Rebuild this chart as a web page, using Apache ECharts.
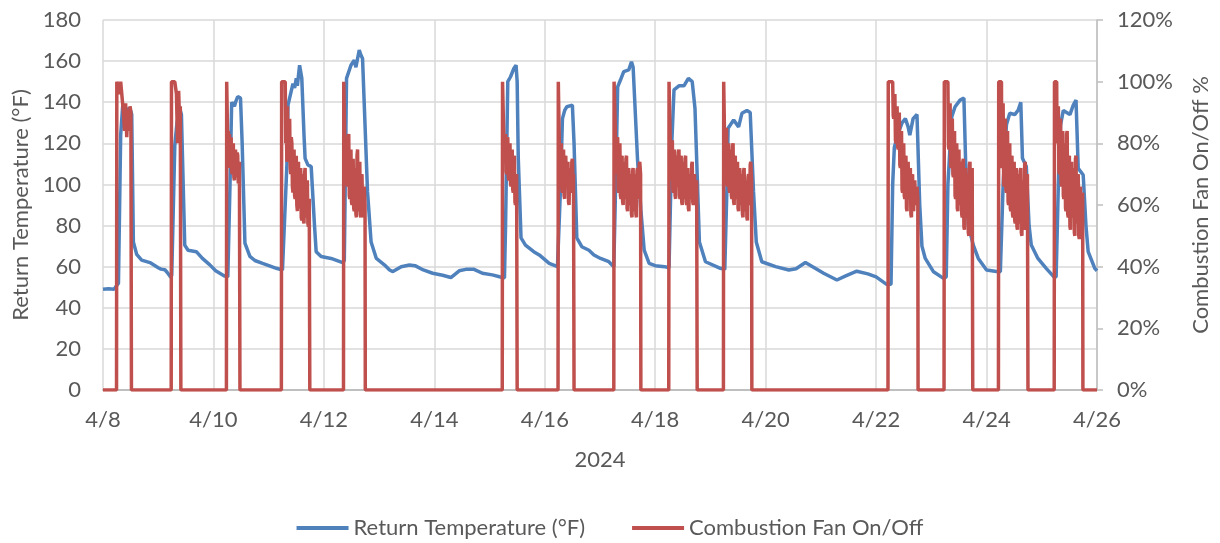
<!DOCTYPE html>
<html><head><meta charset="utf-8">
<script src="https://cdn.jsdelivr.net/npm/echarts@6/dist/echarts.min.js"></script>
<style>html,body{margin:0;padding:0;background:#fff}#c{width:1220px;height:543px}</style>
</head><body><div id="c"></div>
<script>
// x values are days since 4/8/2024
const xTickLabels = ['4/8','4/10','4/12','4/14','4/16','4/18','4/20','4/22','4/24','4/26'];
const seriesNames = ['Return Temperature (°F)', 'Combustion Fan On/Off'];

const returnTemp = [
[0,49],[0.1,49.3],[0.2,49],[0.23,48.5],[0.28,52],[0.32,124],[0.356,138],[0.40,135],[0.45,137],[0.50,136],[0.52,134],[0.55,72],[0.61,66],[0.70,63.2],[0.85,62],[1.0,59.5],[1.05,58.8],[1.12,58.5],[1.16,57.3],[1.23,54.8],
[1.245,56],[1.30,119],[1.34,130],[1.39,137],[1.42,134],[1.48,70.5],[1.54,68],[1.69,67.3],[1.80,64],[1.93,61],[2.04,58],[2.19,55.6],[2.26,55],
[2.30,100],[2.33,140],[2.38,138],[2.40,140],[2.44,142.7],[2.49,142],[2.52,120],[2.57,71.5],[2.66,65],[2.75,63],[2.89,61.6],[3.14,59.2],[3.25,58.4],
[3.33,109.5],[3.35,138.6],[3.44,149],[3.47,147],[3.50,151.6],[3.52,148],[3.56,158],[3.60,151.6],[3.64,124],[3.66,112.7],[3.71,109.5],[3.77,108.7],[3.83,80],[3.86,67.3],[3.95,64.9],[4.13,64],[4.34,62],
[4.37,63],[4.41,151.6],[4.49,158],[4.55,160.5],[4.58,157],[4.64,165.4],[4.67,163],[4.70,161.3],[4.79,96.5],[4.855,72],[4.95,64],[5.10,60.8],[5.19,58.4],
[5.25,57.6],[5.40,60],[5.55,60.8],[5.65,60.5],[5.80,58.4],[5.97,56.8],[6.15,55.8],[6.30,54.7],[6.45,58],[6.57,58.7],[6.72,58.7],[6.87,56.8],[7.05,56],[7.18,55.1],[7.27,54.5],
[7.29,80],[7.33,150],[7.38,152.4],[7.44,156.4],[7.48,158],[7.50,150],[7.52,112.7],[7.57,74],[7.65,70.5],[7.80,67.3],[7.90,65.7],[8.08,61.6],[8.23,60],
[8.25,60],[8.28,95],[8.32,132],[8.36,136],[8.40,137.8],[8.50,138.6],[8.53,120],[8.58,74],[8.67,69.7],[8.80,68],[8.89,65.7],[9.01,64],[9.16,62.4],[9.25,60],
[9.30,120],[9.32,147.5],[9.37,150.8],[9.43,154.9],[9.52,155.7],[9.57,159.7],[9.60,157],[9.68,112],[9.74,87.6],[9.80,68],[9.89,61.6],[10.0,60.5],[10.17,60],[10.25,59.5],
[10.30,120],[10.34,146],[10.43,148],[10.52,148],[10.60,151.6],[10.67,150],[10.72,137],[10.76,104.6],[10.80,72],[10.91,62.4],[11.18,59.2],[11.26,58.7],
[11.30,100],[11.32,127.3],[11.42,131.4],[11.51,128],[11.57,134.6],[11.66,136],[11.72,135],[11.78,96.5],[11.83,72],[11.93,62.4],[12.18,60],[12.42,58.4],[12.55,59],[12.72,62],[12.85,60],[13.05,56.8],[13.29,53.5],[13.45,55.5],[13.65,57.8],[13.85,56.5],[14.0,55],[14.19,51.4],[14.27,51.5],
[14.30,100],[14.33,118],[14.40,125],[14.47,130],[14.53,132],[14.58,128],[14.61,124],[14.67,132],[14.74,134],[14.79,90],[14.83,70],[14.89,64],[15.04,57.5],[15.22,54.3],[15.27,55],
[15.30,100],[15.37,133],[15.43,137.8],[15.52,141],[15.59,142],[15.62,112],[15.67,80],[15.76,70.5],[15.85,64],[16.0,58.4],[16.18,57.6],[16.25,57.5],
[16.30,100],[16.36,129],[16.42,134.6],[16.51,134],[16.57,136],[16.62,140],[16.65,112.7],[16.72,108.7],[16.77,80],[16.81,70.5],[16.93,64],[17.08,59.2],[17.22,55],[17.26,55],
[17.30,100],[17.34,129],[17.39,136],[17.51,134],[17.57,138.6],[17.62,141],[17.66,107.8],[17.75,104.6],[17.80,80],[17.84,67.3],[17.96,59.2],[18.0,58]
];

const fanOnOff = [
[0,0],
[0.245,0],[0.25,100],[0.30,96],[0.32,100],[0.35,100],[0.37,90],[0.39,84],[0.41,93],[0.43,82],[0.45,91],[0.47,84],[0.49,92],[0.505,90],[0.515,0],
[1.235,0],[1.24,100],[1.30,100],[1.33,96],[1.35,80],[1.37,97],[1.39,85],[1.40,92],[1.41,0],
[2.235,0],[2.24,100],[2.25,100],[2.26,78],[2.27,84],[2.28,74],[2.29,83],[2.30,72],[2.31,80],[2.32,82],[2.33,71],[2.34,70],[2.35,79],[2.36,80],[2.37,69],[2.38,68],[2.39,77],[2.40,78],[2.41,69],[2.42,70],[2.43,77],[2.44,76],[2.45,67],[2.46,68],[2.47,74],[2.48,0],
[3.23,0],[3.235,100],[3.30,100],[3.31,80],[3.32,85],[3.33,74],[3.34,92],[3.35,80],[3.36,74],[3.37,86],[3.38,88],[3.39,72],[3.40,70],[3.41,82],[3.42,80],[3.43,66],[3.44,64],[3.45,77],[3.46,78],[3.47,63],[3.48,62],[3.49,74],[3.50,76],[3.51,60],[3.52,58],[3.53,72],[3.54,74],[3.55,59],[3.56,60],[3.57,71],[3.58,72],[3.59,56],[3.60,55],[3.61,69],[3.62,70],[3.63,55],[3.64,54],[3.65,70],[3.66,72],[3.67,57],[3.68,56],[3.69,67],[3.70,68],[3.71,54],[3.72,53],[3.735,62],[3.745,0],
[4.355,0],[4.36,100],[4.38,100],[4.385,72],[4.39,72],[4.40,79],[4.41,80],[4.42,67],[4.43,66],[4.44,82],[4.45,83],[4.46,63],[4.47,62],[4.48,77],[4.49,78],[4.50,61],[4.51,60],[4.52,74],[4.53,75],[4.54,59],[4.55,58],[4.56,71],[4.57,72],[4.58,57],[4.59,56],[4.60,76],[4.61,78],[4.62,59],[4.63,58],[4.64,73],[4.65,74],[4.66,57],[4.67,56],[4.68,69],[4.69,70],[4.70,57],[4.71,56],[4.72,65],[4.73,66],[4.745,60],[4.75,0],
[7.23,0],[7.235,100],[7.26,100],[7.265,76],[7.27,75],[7.28,82],[7.29,83],[7.30,71],[7.31,70],[7.32,81],[7.33,82],[7.34,69],[7.35,68],[7.36,79],[7.37,80],[7.38,67],[7.39,66],[7.40,77],[7.41,78],[7.42,65],[7.43,64],[7.44,75],[7.45,76],[7.46,61],[7.47,60],[7.48,69],[7.49,70],[7.50,0],
[8.24,0],[8.245,100],[8.27,100],[8.275,67],[8.28,66],[8.29,79],[8.30,80],[8.31,65],[8.32,64],[8.33,77],[8.34,78],[8.35,63],[8.36,62],[8.37,75],[8.38,76],[8.39,67],[8.40,66],[8.41,73],[8.42,74],[8.43,61],[8.44,60],[8.45,71],[8.46,72],[8.47,65],[8.48,64],[8.49,74],[8.50,75],[8.51,69],[8.52,70],[8.53,0],
[9.25,0],[9.255,100],[9.29,100],[9.295,71],[9.30,70],[9.31,81],[9.32,82],[9.33,65],[9.34,64],[9.35,79],[9.36,80],[9.37,63],[9.38,62],[9.39,75],[9.40,76],[9.41,61],[9.42,60],[9.43,73],[9.44,74],[9.45,63],[9.46,62],[9.47,75],[9.48,76],[9.49,59],[9.50,58],[9.51,71],[9.52,72],[9.53,61],[9.54,60],[9.55,69],[9.56,70],[9.57,57],[9.58,56],[9.59,71],[9.60,72],[9.61,59],[9.62,58],[9.63,69],[9.64,70],[9.65,57],[9.66,56],[9.67,71],[9.68,72],[9.69,63],[9.70,62],[9.71,73],[9.72,74],[9.735,70],[9.74,0],
[10.245,0],[10.25,100],[10.28,100],[10.285,69],[10.29,68],[10.30,80],[10.31,81],[10.32,65],[10.33,64],[10.34,77],[10.35,78],[10.36,63],[10.37,62],[10.38,75],[10.39,76],[10.40,67],[10.41,66],[10.42,77],[10.43,78],[10.44,63],[10.45,62],[10.46,75],[10.47,76],[10.48,61],[10.49,60],[10.50,73],[10.51,74],[10.52,63],[10.53,62],[10.54,75],[10.55,76],[10.56,61],[10.57,60],[10.58,71],[10.59,72],[10.60,59],[10.61,58],[10.62,69],[10.63,70],[10.64,63],[10.65,62],[10.66,73],[10.67,74],[10.68,61],[10.69,60],[10.70,69],[10.71,70],[10.72,65],[10.73,64],[10.75,68],[10.76,0],
[11.235,0],[11.24,100],[11.255,100],[11.265,71],[11.27,70],[11.28,84],[11.29,85],[11.30,67],[11.31,66],[11.32,79],[11.33,80],[11.34,65],[11.35,64],[11.36,77],[11.37,78],[11.38,63],[11.39,62],[11.40,79],[11.41,80],[11.42,61],[11.43,60],[11.44,75],[11.45,76],[11.46,63],[11.47,62],[11.48,73],[11.49,74],[11.50,59],[11.51,58],[11.52,71],[11.53,72],[11.54,61],[11.55,60],[11.56,69],[11.57,70],[11.58,57],[11.59,56],[11.60,71],[11.61,72],[11.62,59],[11.63,58],[11.64,67],[11.65,68],[11.66,56],[11.67,55],[11.68,69],[11.69,70],[11.70,61],[11.71,60],[11.72,73],[11.73,74],[11.745,68],[11.75,0],
[14.215,0],[14.22,100],[14.30,100],[14.31,89],[14.32,88],[14.33,95],[14.34,96],[14.35,81],[14.36,80],[14.37,91],[14.38,92],[14.39,79],[14.40,78],[14.41,89],[14.42,90],[14.43,73],[14.44,72],[14.45,83],[14.46,84],[14.47,65],[14.48,64],[14.49,79],[14.50,80],[14.51,63],[14.52,62],[14.53,75],[14.54,76],[14.55,59],[14.56,58],[14.57,73],[14.58,74],[14.59,63],[14.60,62],[14.61,71],[14.62,72],[14.63,57],[14.64,56],[14.65,69],[14.66,70],[14.67,59],[14.68,58],[14.69,67],[14.70,68],[14.71,61],[14.72,60],[14.73,65],[14.74,66],[14.755,62],[14.76,0],
[15.23,0],[15.235,100],[15.30,100],[15.31,79],[15.32,78],[15.33,92],[15.34,93],[15.35,73],[15.36,72],[15.37,87],[15.38,88],[15.39,70],[15.40,69],[15.41,83],[15.42,84],[15.43,63],[15.44,62],[15.45,79],[15.46,80],[15.47,59],[15.48,58],[15.49,77],[15.50,78],[15.51,61],[15.52,60],[15.53,73],[15.54,74],[15.55,57],[15.56,56],[15.57,74],[15.58,75],[15.59,53],[15.60,52],[15.61,71],[15.62,72],[15.63,57],[15.64,56],[15.65,69],[15.66,70],[15.67,51],[15.68,50],[15.69,73],[15.70,74],[15.71,55],[15.72,54],[15.73,71],[15.74,72],[15.75,0],
[16.215,0],[16.22,100],[16.27,100],[16.275,73],[16.28,72],[16.29,92],[16.30,93],[16.31,67],[16.32,66],[16.33,87],[16.34,88],[16.35,65],[16.36,64],[16.37,83],[16.38,84],[16.39,61],[16.40,60],[16.41,79],[16.42,80],[16.43,59],[16.44,58],[16.45,75],[16.46,76],[16.47,57],[16.48,56],[16.49,73],[16.50,74],[16.51,55],[16.52,54],[16.53,71],[16.54,72],[16.55,53],[16.56,52],[16.57,69],[16.58,70],[16.59,55],[16.60,54],[16.61,71],[16.62,72],[16.63,51],[16.64,50],[16.65,67],[16.66,68],[16.67,53],[16.68,52],[16.69,73],[16.70,74],[16.71,57],[16.72,56],[16.73,69],[16.74,70],[16.75,0],
[17.225,0],[17.23,100],[17.27,100],[17.275,81],[17.28,80],[17.29,91],[17.30,92],[17.31,71],[17.32,70],[17.33,87],[17.34,88],[17.35,67],[17.36,66],[17.37,83],[17.38,84],[17.39,63],[17.40,62],[17.41,79],[17.42,80],[17.43,59],[17.44,58],[17.45,83],[17.46,84],[17.47,57],[17.48,56],[17.49,75],[17.50,76],[17.51,53],[17.52,52],[17.53,73],[17.54,74],[17.55,57],[17.56,56],[17.57,71],[17.58,72],[17.59,51],[17.60,50],[17.61,75],[17.62,76],[17.63,55],[17.64,54],[17.65,69],[17.66,70],[17.67,50],[17.68,49],[17.69,65],[17.70,66],[17.71,57],[17.72,56],[17.73,63],[17.74,64],[17.745,0],
[18,0]
];

const FONT = 'Lato';
const GRAY = '#595959';
const FS = 22;
const chart = echarts.init(document.getElementById('c'), null, {renderer:'canvas'});
chart.setOption({
  animation: false,
  textStyle: {fontFamily: FONT},
  grid: {left: 103, right: 121, top: 20, bottom: 153},
  legend: {
    top: 512, left: 'center', icon: 'rect', itemWidth: 52, itemHeight: 4, itemGap: 47,
    textStyle: {fontSize: FS, color: GRAY, fontFamily: FONT},
    data: seriesNames
  },
  xAxis: {
    type: 'value', min: 0, max: 18, interval: 2,
    name: '2024', nameLocation: 'middle', nameGap: 59,
    nameTextStyle: {fontSize: FS, color: GRAY, fontFamily: FONT},
    axisLine: {lineStyle: {color: '#BFBFBF', width: 2}},
    axisTick: {show: false},
    axisLabel: {margin: 19, fontSize: FS, color: GRAY, fontFamily: FONT, formatter: v => xTickLabels[Math.round(v / 2)]},
    splitLine: {show: true, lineStyle: {color: '#D9D9D9', width: 1.5}}
  },
  yAxis: [{
    type: 'value', min: 0, max: 180, interval: 20,
    name: seriesNames[0], nameLocation: 'middle', nameGap: 70,
    nameTextStyle: {fontSize: FS, color: GRAY, fontFamily: FONT},
    axisLine: {show: false}, axisTick: {show: false},
    axisLabel: {margin: 22, fontSize: FS, color: GRAY, fontFamily: FONT},
    splitLine: {show: true, lineStyle: {color: '#D9D9D9', width: 1.5}}
  }, {
    type: 'value', min: 0, max: 120, interval: 20, position: 'right',
    name: 'Combustion Fan On/Off %', nameLocation: 'middle', nameGap: 93,
    nameTextStyle: {fontSize: FS, color: GRAY, fontFamily: FONT},
    axisLine: {show: true, lineStyle: {color: '#BFBFBF', width: 1.5}},
    axisTick: {show: true, length: 6, lineStyle: {color: '#BFBFBF', width: 1.5}},
    axisLabel: {margin: 20, fontSize: FS, color: GRAY, fontFamily: FONT, formatter: '{value}%'},
    splitLine: {show: false}
  }],
  series: [{
    name: seriesNames[0], type: 'line', yAxisIndex: 0, data: returnTemp,
    showSymbol: false, symbol: 'none', color: '#4F81BD',
    lineStyle: {width: 3.5, color: '#4F81BD'}
  }, {
    name: seriesNames[1], type: 'line', yAxisIndex: 1, data: fanOnOff,
    showSymbol: false, symbol: 'none', color: '#C0504D',
    lineStyle: {width: 3.5, color: '#C0504D'}
  }]
});
</script>
</body></html>
